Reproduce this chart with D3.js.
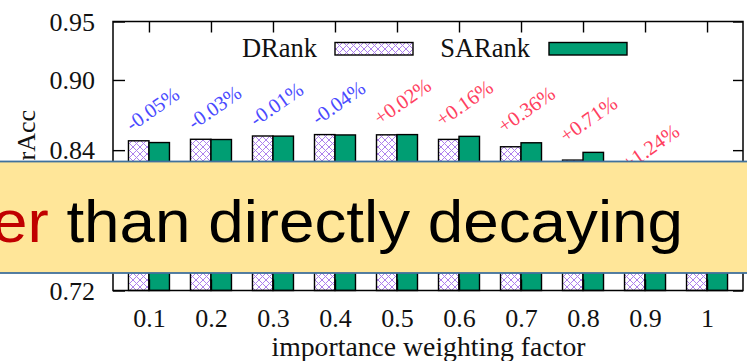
<!DOCTYPE html>
<html><head><meta charset="utf-8">
<script src="https://cdn.jsdelivr.net/npm/d3@7"></script>
<style>
html,body{margin:0;padding:0;background:#fff;}
svg{display:block;}
</style></head>
<body>
<svg id="c" width="747" height="361"></svg>
<script>
// ---- data ----
const categories = ["0.1","0.2","0.3","0.4","0.5","0.6","0.7","0.8","0.9","1"];
const drank  = [0.8480,0.8493,0.8521,0.8533,0.8531,0.8492,0.8429,0.8315,0.8040,0.7600];
const sarank = [0.8465,0.8491,0.8520,0.8530,0.8533,0.8518,0.8463,0.8381,0.8140,0.7780];
const changeLabels = ["-0.05%","-0.03%","-0.01%","-0.04%","+0.02%","+0.16%","+0.36%","+0.71%","+1.24%","+2.34%"];
const yTicks = [0.72,0.78,0.84,0.90,0.95];
const seriesNames = ["DRank","SARank"];
const xTitle = "importance weighting factor";
const yTitle = "PairAcc";
const bannerRed = "er";
const bannerBlack = " than directly decaying";

// ---- layout ----
const L = 113, R = 743, T = 21.5, B = 290.5;
const svg = d3.select("#c");
svg.append("rect").attr("width",747).attr("height",361).attr("fill","#fff");

const defs = svg.append("defs");
const ps = 7;
const pat = defs.append("pattern").attr("id","hatch").attr("patternUnits","userSpaceOnUse")
  .attr("width",ps).attr("height",ps);
pat.append("rect").attr("width",ps).attr("height",ps).attr("fill","#fff");
pat.append("path").attr("d",`M0,0L${ps},${ps}M${ps},0L0,${ps}`)
  .attr("stroke","#ad80ec").attr("stroke-width",1).attr("fill","none");

const x = d3.scalePoint().domain(categories).range([L,R]).padding(0.58);
const y = d3.scaleLinear().domain([0.72,0.95]).range([B,T]);
const bw = 20.5;
const serif = "'Liberation Serif','Times New Roman',serif";

// bars
const g = svg.append("g");
categories.forEach((c,i)=>{
  const cx = x(c);
  g.append("rect").attr("x",cx-bw).attr("y",y(drank[i])).attr("width",bw)
    .attr("height",y(0.72)-y(drank[i])).attr("fill","url(#hatch)")
    .attr("stroke","#000").attr("stroke-width",1.4);
  g.append("rect").attr("x",cx).attr("y",y(sarank[i])).attr("width",bw)
    .attr("height",y(0.72)-y(sarank[i])).attr("fill","#009e73")
    .attr("stroke","#000").attr("stroke-width",1.4);
});

// axes
function styleAxis(sel){
  sel.selectAll("path").remove();
  sel.selectAll("line").attr("stroke","#000").attr("stroke-width",1.4);
  sel.selectAll("text").attr("fill","#111").style("font-family",serif).style("font-size","26px");
}
svg.append("g").attr("transform",`translate(${L},0)`)
  .call(d3.axisLeft(y).tickValues(yTicks).tickFormat(d3.format(".2f")).tickSizeInner(-12).tickSizeOuter(0).tickPadding(18))
  .call(styleAxis).call(s=>s.selectAll("text").attr("dy","0.34em"));
svg.append("g").attr("transform",`translate(${R},0)`)
  .call(d3.axisRight(y).tickValues(yTicks).tickFormat("").tickSizeInner(-10).tickSizeOuter(0))
  .call(styleAxis);
svg.append("g").attr("transform",`translate(0,${T})`)
  .call(d3.axisTop(x).tickFormat("").tickSizeInner(-11).tickSizeOuter(0))
  .call(styleAxis);
svg.append("g").attr("transform",`translate(0,${B})`)
  .call(d3.axisBottom(x).tickSizeInner(-11).tickSizeOuter(0).tickPadding(18))
  .call(styleAxis);

// frame
svg.append("rect").attr("x",L).attr("y",T).attr("width",R-L).attr("height",B-T)
  .attr("fill","none").attr("stroke","#000").attr("stroke-width",1.5);

// percent labels
categories.forEach((c,i)=>{
  const top = Math.min(y(drank[i]),y(sarank[i]));
  const lx = x(c)-17, ly = top-9;
  svg.append("text").attr("transform",`translate(${lx},${ly}) rotate(-35)`)
    .attr("fill", changeLabels[i].startsWith("-") ? "#4a4aff" : "#ff4060")
    .style("font-family",serif).style("font-size","20.5px")
    .text(changeLabels[i]);
});

// legend
svg.append("text").attr("x",317).attr("y",57).attr("text-anchor","end")
  .style("font-family",serif).style("font-size","26.5px").attr("fill","#111").text(seriesNames[0]);
svg.append("rect").attr("x",335).attr("y",42.5).attr("width",78).attr("height",12.5)
  .attr("fill","url(#hatch)").attr("stroke","#000").attr("stroke-width",1.4);
svg.append("text").attr("x",530).attr("y",57).attr("text-anchor","end")
  .style("font-family",serif).style("font-size","26.5px").attr("fill","#111").text(seriesNames[1]);
svg.append("rect").attr("x",549).attr("y",42.5).attr("width",78).attr("height",12.5)
  .attr("fill","#009e73").attr("stroke","#000").attr("stroke-width",1.4);

// axis titles
svg.append("text").attr("x",428.5).attr("y",356).attr("text-anchor","middle")
  .style("font-family",serif).style("font-size","27px").attr("fill","#111")
  .attr("textLength",314).attr("lengthAdjust","spacingAndGlyphs").text(xTitle);
svg.append("text").attr("transform","translate(35,110) rotate(-90)").attr("text-anchor","end")
  .style("font-family",serif).style("font-size","26px").attr("fill","#111").text(yTitle);

// overlay banner
svg.append("rect").attr("x",-10).attr("y",161.5).attr("width",770).attr("height",111.5)
  .attr("fill","#ffe699").attr("stroke","#41719c").attr("stroke-width",1.8);
const sans = "'Liberation Sans',Arial,sans-serif";
const bt = svg.append("text").attr("x",-8).attr("y",241.5)
  .style("font-family",sans).style("font-size","60px")
  .attr("textLength",691).attr("lengthAdjust","spacingAndGlyphs");
bt.append("tspan").attr("fill","#c00000").text(bannerRed);
bt.append("tspan").attr("fill","#000").text(bannerBlack);
</script>
</body></html>
